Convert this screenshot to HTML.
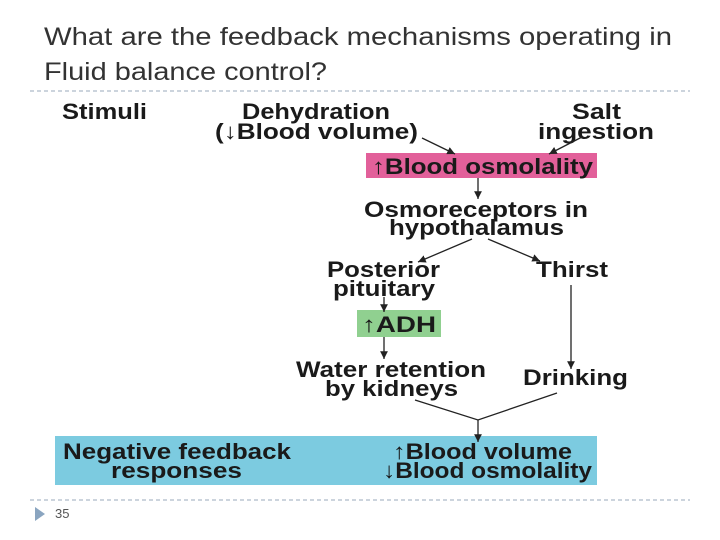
<html><head><style>body{margin:0;background:#fff}svg{display:block}</style></head><body>
<svg width="720" height="540" viewBox="0 0 720 540" xmlns="http://www.w3.org/2000/svg" font-family="Liberation Sans, sans-serif">
<defs><marker id="a" markerWidth="8" markerHeight="8" refX="6" refY="3" orient="auto"><path d="M0,0 L6,3 L0,6 Z" fill="#222"/></marker></defs>
<text x="44" y="45" font-size="25" fill="#333" textLength="628" lengthAdjust="spacingAndGlyphs">What are the feedback mechanisms  operating in</text>
<text x="44" y="80" font-size="25" fill="#333" textLength="283" lengthAdjust="spacingAndGlyphs">Fluid balance control?</text>
<line x1="30" y1="91" x2="690" y2="91" stroke="#9aaabb" stroke-dasharray="4,3"/>
<line x1="30" y1="500" x2="690" y2="500" stroke="#9aaabb" stroke-dasharray="4,3"/>
<rect x="366" y="153" width="231" height="25" fill="#e2609a"/>
<rect x="357" y="310" width="84" height="27" fill="#90d090"/>
<rect x="55" y="436" width="542" height="49" fill="#7ccbe0"/>
<g font-weight="bold" font-size="22" fill="#1a1a1a">
<text x="62" y="119" textLength="85" lengthAdjust="spacingAndGlyphs">Stimuli</text>
<text x="242" y="119" textLength="148" lengthAdjust="spacingAndGlyphs">Dehydration</text>
<text x="215" y="139" textLength="203" lengthAdjust="spacingAndGlyphs">(↓Blood volume)</text>
<text x="572" y="119" textLength="49" lengthAdjust="spacingAndGlyphs">Salt</text>
<text x="538" y="139" textLength="116" lengthAdjust="spacingAndGlyphs">ingestion</text>
<text x="372" y="174" textLength="221" lengthAdjust="spacingAndGlyphs">↑Blood osmolality</text>
<text x="364" y="217" textLength="224" lengthAdjust="spacingAndGlyphs">Osmoreceptors in</text>
<text x="389" y="235" textLength="175" lengthAdjust="spacingAndGlyphs">hypothalamus</text>
<text x="327" y="277" textLength="113" lengthAdjust="spacingAndGlyphs">Posterior</text>
<text x="333" y="296" textLength="102" lengthAdjust="spacingAndGlyphs">pituitary</text>
<text x="536" y="277" textLength="72" lengthAdjust="spacingAndGlyphs">Thirst</text>
<text x="362" y="332" textLength="74" lengthAdjust="spacingAndGlyphs">↑ADH</text>
<text x="296" y="377" textLength="190" lengthAdjust="spacingAndGlyphs">Water retention</text>
<text x="325" y="396" textLength="133" lengthAdjust="spacingAndGlyphs">by kidneys</text>
<text x="523" y="385" textLength="105" lengthAdjust="spacingAndGlyphs">Drinking</text>
<text x="63" y="459" textLength="228" lengthAdjust="spacingAndGlyphs">Negative feedback</text>
<text x="111" y="478" textLength="131" lengthAdjust="spacingAndGlyphs">responses</text>
<text x="393" y="459" textLength="179" lengthAdjust="spacingAndGlyphs">↑Blood volume</text>
<text x="383" y="478" textLength="209" lengthAdjust="spacingAndGlyphs">↓Blood osmolality</text>
</g>
<g stroke="#222" stroke-width="1.3" fill="none" marker-end="url(#a)">
<line x1="422" y1="138" x2="455" y2="154"/>
<line x1="582" y1="137" x2="549" y2="154"/>
<line x1="478" y1="178" x2="478" y2="199"/>
<line x1="472" y1="239" x2="418" y2="262"/>
<line x1="488" y1="239" x2="540" y2="261"/>
<line x1="384" y1="297" x2="384" y2="312"/>
<line x1="384" y1="337" x2="384" y2="359"/>
<line x1="571" y1="285" x2="571" y2="369"/>
<line x1="478" y1="420" x2="478" y2="442"/>
</g>
<polyline points="415,400 478,420 557,393" stroke="#222" stroke-width="1.3" fill="none"/>
<path d="M35,507 L45,514 L35,521 Z" fill="#8aa5c0"/>
<text x="55" y="518" font-size="13" fill="#555">35</text>
</svg>
</body></html>
